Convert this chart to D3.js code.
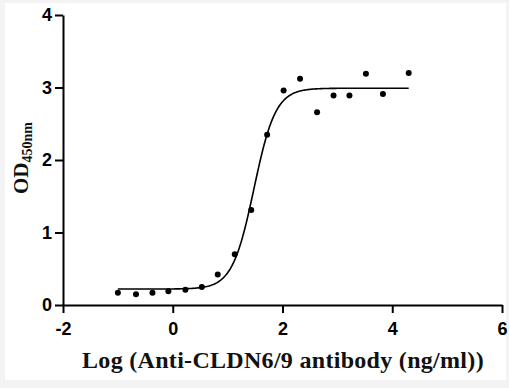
<!DOCTYPE html>
<html><head><meta charset="utf-8">
<script src="https://cdn.jsdelivr.net/npm/d3@7"></script>
<style>body{margin:0;background:#f3f3f3}svg{display:block}</style>
</head><body>
<svg id="c" width="509" height="388"></svg>
<script>
const logConc = [-1.0,-0.67,-0.37,-0.08,0.23,0.53,0.82,1.13,1.43,1.72,2.02,2.32,2.63,2.93,3.22,3.52,3.83,4.30];
const od      = [0.17,0.15,0.17,0.19,0.21,0.25,0.42,0.70,1.31,2.35,2.96,3.12,2.66,2.89,2.89,3.19,2.91,3.20];
const fitBottom = 0.22, fitTop = 2.99, fitLogEC50 = 1.48, fitHill = 2.2;
const xTicks = [-2,0,2,4,6];
const yTicks = [0,1,2,3,4];

const svg = d3.select('#c');
svg.append('rect').attr('x',5).attr('y',3).attr('width',501).attr('height',377).attr('fill','#fff');

const x = d3.scaleLinear().domain([-2,6]).range([63,502]);
const y = d3.scaleLinear().domain([0,4]).range([305,15]);
const fmt = d => String(d).replace('\u2212','-');

const xa = svg.append('g').attr('transform','translate(0,305)')
  .call(d3.axisBottom(x).tickValues(xTicks).tickFormat(fmt).tickSize(8).tickPadding(9).tickSizeOuter(0));
const ya = svg.append('g').attr('transform','translate(63,0)')
  .call(d3.axisLeft(y).tickValues(yTicks).tickFormat(fmt).tickSize(8).tickPadding(3).tickSizeOuter(0));
[xa,ya].forEach(g=>{
  g.select('.domain').attr('stroke','#000').attr('stroke-width',2);
  g.selectAll('.tick line').attr('stroke','#000').attr('stroke-width',2);
  g.selectAll('.tick text').attr('fill','#000').attr('font-family','Liberation Sans, Arial, sans-serif')
   .attr('font-weight','bold').attr('font-size',18);
});

// fitted curve
const curveX = d3.range(-1.0, 4.3001, 0.02);
const f = v => fitBottom + (fitTop-fitBottom)/(1+Math.pow(10,(fitLogEC50 - v)*fitHill));
svg.append('path').datum(curveX)
  .attr('d', d3.line().x(d=>x(d)).y(d=>y(f(d))))
  .attr('fill','none').attr('stroke','#000').attr('stroke-width',1.6);

svg.selectAll('circle.pt').data(logConc).enter().append('circle')
  .attr('cx',d=>x(d)).attr('cy',(d,i)=>y(od[i])).attr('r',3).attr('fill','#000');

svg.append('text').attr('x',283).attr('y',368).attr('text-anchor','middle')
  .attr('font-family','Liberation Serif, Times New Roman, serif').attr('font-weight','bold')
  .attr('font-size',24).attr('letter-spacing',0.3).attr('fill','#111').text('Log (Anti-CLDN6/9 antibody (ng/ml))');

const yt = svg.append('text').attr('transform','translate(28,158) rotate(-90)').attr('text-anchor','middle')
  .attr('font-family','Liberation Serif, Times New Roman, serif').attr('font-weight','bold').attr('fill','#111');
yt.append('tspan').attr('font-size',21).text('OD');
yt.append('tspan').attr('font-size',14).attr('dy',4).text('450nm');
</script>
</body></html>
